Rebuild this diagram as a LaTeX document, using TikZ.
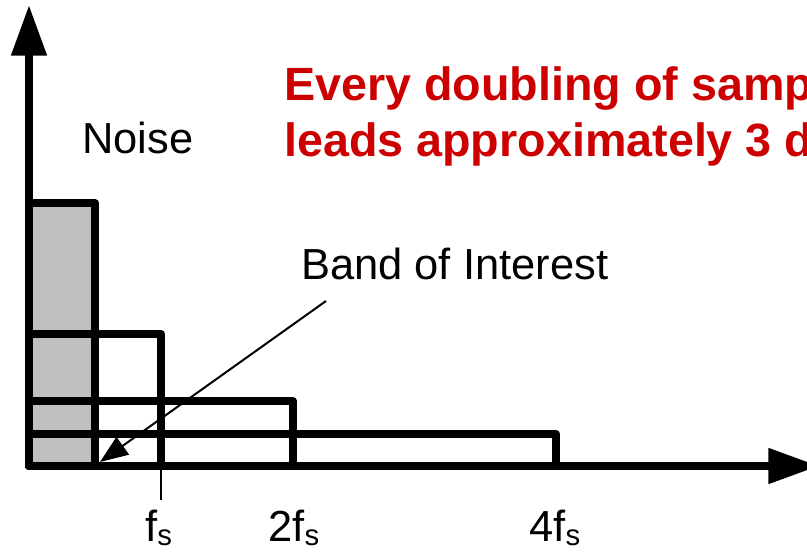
\documentclass[tikz,border=0pt]{standalone}
\usepackage{fontspec}
\setmainfont{Liberation Sans}
\usetikzlibrary{arrows.meta}
\definecolor{redtxt}{HTML}{CC0000}
\definecolor{bandgray}{HTML}{C0C0C0}
\newcommand\mysub[1]{{\fontsize{22}{22}\selectfont\raisebox{-3.5pt}{#1}}}
\begin{document}
\begin{tikzpicture}[x=0.75pt,y=-0.75pt,
  axis/.style={line width=6pt, line join=round, {Triangle[length=38pt,width=25.5pt]}-{Triangle[length=38pt,width=25.5pt]}},
  band/.style={line width=6pt, line join=round},
  pointer/.style={line width=1.5pt, -{Triangle[length=21pt,width=16pt]}},
  lbl/.style={font=\fontsize{32.6}{38}\selectfont, inner sep=0pt, anchor=base west},
  title/.style={font=\fontsize{35}{40}\selectfont\bfseries, text=redtxt, inner sep=0pt, anchor=base west},
  tick/.style={line width=1.5pt}]
\useasboundingbox (0,0) rectangle (807,551);
% coordinates
\coordinate (o) at (29,466);
\coordinate (ytip) at (29,5);
\coordinate (xtip) at (819,466);
% bands
\fill[bandgray] (29,203) rectangle (95,466);
\draw[band] (29,466) rectangle (95,203);
\draw[band] (29,466) rectangle (161,334);
\draw[band] (29,466) rectangle (293,401);
\draw[band] (29,466) rectangle (556,434);
% axes
\draw[axis] (ytip) -- (o) -- (xtip);
% tick under fs
\coordinate (tk1) at (161,468);
\coordinate (tk2) at (161,500);
\draw[tick] (tk1) -- (tk2);
% pointer
\coordinate (ps) at (326,301);
\coordinate (pe) at (100,462);
\draw[pointer] (ps) -- (pe);
% texts
\node[lbl] (noise) at (82,153) {Noise};
\node[lbl] (boi) at (301,279) {Band of Interest};
\node[lbl] (fs1) at (145,541) {f\mysub{s}};
\node[lbl] (fs2) at (268,541) {2f\mysub{s}};
\node[lbl] (fs4) at (529,541) {4f\mysub{s}};
\node[title] (t1) at (284,100) {Every doubling of samp};
\node[title] (t2) at (284,156) {leads approximately 3 d};
\end{tikzpicture}
\end{document}
